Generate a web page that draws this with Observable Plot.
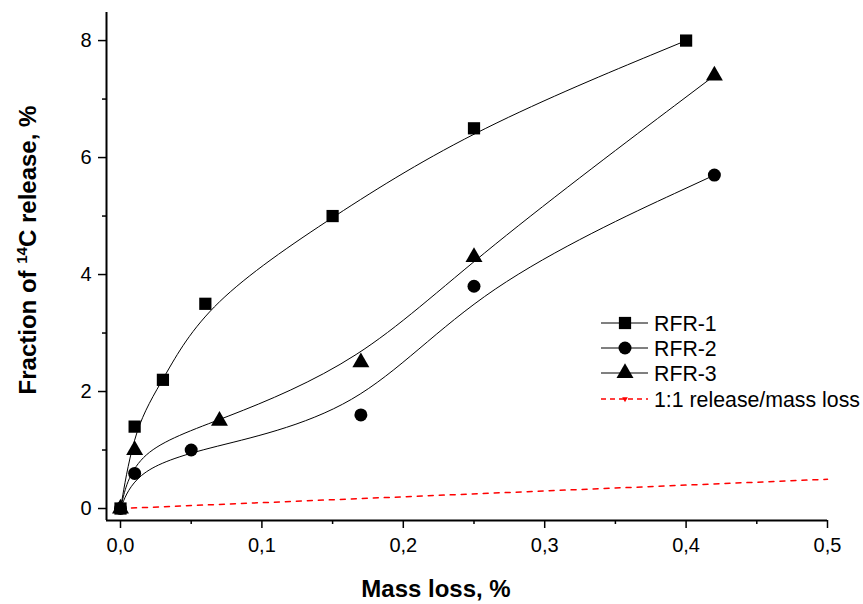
<!DOCTYPE html>
<html><head><meta charset="utf-8">
<script src="https://cdn.jsdelivr.net/npm/d3@7"></script>
<script src="https://cdn.jsdelivr.net/npm/@observablehq/plot@0.6"></script>
<style>
html,body{margin:0;padding:0;background:#fff;}
#chart{width:863px;height:604px;}
</style></head><body><div id="chart"></div>
<script>
// ---- data ----
const rfr1X = [0, 0.01, 0.03, 0.06, 0.15, 0.25, 0.40];
const rfr1Y = [0, 1.4, 2.2, 3.5, 5.0, 6.5, 8.0];
const rfr2X = [0, 0.01, 0.05, 0.17, 0.25, 0.42];
const rfr2Y = [0, 0.6, 1.0, 1.6, 3.8, 5.7];
const rfr3X = [0, 0.01, 0.07, 0.17, 0.25, 0.42];
const rfr3Y = [0, 1.0, 1.5, 2.5, 4.3, 7.4];
const refX = [0, 0.5];
const refY = [0, 0.5];
const seriesNames = ["RFR-1", "RFR-2", "RFR-3", "1:1 release/mass loss"];
const xTicks = [0, 0.1, 0.2, 0.3, 0.4, 0.5];
const xTickLabels = ["0,0", "0,1", "0,2", "0,3", "0,4", "0,5"];
const xMinor = [0.05, 0.15, 0.25, 0.35, 0.45];
const yTicks = [0, 2, 4, 6, 8];
const yTickLabels = ["0", "2", "4", "6", "8"];
const yMinor = [1, 3, 5, 7];
const xDomain = [-0.0099, 0.5];
const yDomain = [-0.205, 8.48];

const toRows = (xs, ys) => xs.map((x, i) => ({x, y: ys[i]}));
const rfr1 = toRows(rfr1X, rfr1Y);
const rfr2 = toRows(rfr2X, rfr2Y);
const rfr3 = toRows(rfr3X, rfr3Y);
const ref = toRows(refX, refY);

const font = "'Liberation Sans', Arial, sans-serif";

const plot = Plot.plot({
  width: 863, height: 604,
  marginLeft: 106, marginRight: 36, marginTop: 12, marginBottom: 84,
  style: {fontFamily: font, fontSize: "20px", background: "white", color: "black"},
  x: {domain: xDomain},
  y: {domain: yDomain},
  marks: [
    Plot.axisX(xTicks, {tickSize: 8, tickPadding: 9, strokeWidth: 1.5, fontSize: 20, label: null,
      tickFormat: d => xTickLabels[xTicks.indexOf(d)]}),
    Plot.axisX(xMinor, {tickSize: 4, strokeWidth: 1.5, label: null, tickFormat: () => ""}),
    Plot.axisY(yTicks, {tickSize: 8, tickPadding: 7, strokeWidth: 1.5, fontSize: 20, label: null,
      tickFormat: d => yTickLabels[yTicks.indexOf(d)]}),
    Plot.axisY(yMinor, {tickSize: 4, strokeWidth: 1.5, label: null, tickFormat: () => ""}),
    Plot.ruleY([yDomain[0]], {stroke: "black", strokeWidth: 2}),
    Plot.ruleX([xDomain[0]], {stroke: "black", strokeWidth: 2}),
    Plot.line(ref, {x: "x", y: "y", stroke: "#ff0000", strokeWidth: 1.5, strokeDasharray: "5,6"}),
    Plot.line(rfr1, {x: "x", y: "y", curve: "basis", stroke: "black", strokeWidth: 1}),
    Plot.line(rfr2, {x: "x", y: "y", curve: "basis", stroke: "black", strokeWidth: 1}),
    Plot.line(rfr3, {x: "x", y: "y", curve: "basis", stroke: "black", strokeWidth: 1}),
    Plot.dot(rfr1, {x: "x", y: "y", symbol: "square", r: 6.9, fill: "black", stroke: "none"}),
    Plot.dot(rfr2, {x: "x", y: "y", symbol: "circle", r: 6.5, fill: "black", stroke: "none"}),
    Plot.dot(rfr3, {x: "x", y: "y", symbol: "triangle", r: 6.3, fill: "black", stroke: "none"})
  ]
});

document.getElementById("chart").appendChild(plot);

const svg = d3.select(plot);
// axis titles
svg.append("text")
  .attr("x", 436).attr("y", 597)
  .attr("text-anchor", "middle")
  .attr("font-family", font).attr("font-size", 24).attr("font-weight", "bold")
  .attr("fill", "black")
  .text("Mass loss, %");

const yt = svg.append("text")
  .attr("transform", "translate(36,250) rotate(-90)")
  .attr("text-anchor", "middle")
  .attr("font-family", font).attr("font-size", 24).attr("font-weight", "bold")
  .attr("fill", "black");
yt.append("tspan").text("Fraction of ");
yt.append("tspan").attr("font-size", 15).attr("dy", -9).text("14");
yt.append("tspan").attr("dy", 9).text("C release, %");

// legend
const legend = svg.append("g");
const rowsY = [323, 348, 373, 399];
const symbols = [d3.symbolSquare, d3.symbolCircle, d3.symbolTriangle, null];
const sizes = [Math.PI * 6.9 * 6.9, Math.PI * 6.5 * 6.5, Math.PI * 6.3 * 6.3];
seriesNames.forEach((name, i) => {
  const y = rowsY[i];
  const isRef = i === 3;
  legend.append("line")
    .attr("x1", 601).attr("x2", 648).attr("y1", y).attr("y2", y)
    .attr("stroke", isRef ? "#ff0000" : "black")
    .attr("stroke-width", isRef ? 1.5 : 1)
    .attr("stroke-dasharray", isRef ? "5,4" : null);
  if (!isRef) {
    legend.append("path")
      .attr("transform", `translate(625,${y})`)
      .attr("d", d3.symbol(symbols[i], sizes[i])())
      .attr("fill", "black");
  } else {
    legend.append("path")
      .attr("transform", `translate(625,${y}) rotate(180)`)
      .attr("d", d3.symbol(d3.symbolTriangle, 14)())
      .attr("fill", "#ff0000");
  }
  legend.append("text")
    .attr("x", 654).attr("y", y)
    .attr("dy", "0.36em")
    .attr("text-anchor", "start")
    .attr("font-family", font).attr("font-size", 21.3)
    .attr("fill", "black")
    .text(name);
});
</script>
</body></html>
